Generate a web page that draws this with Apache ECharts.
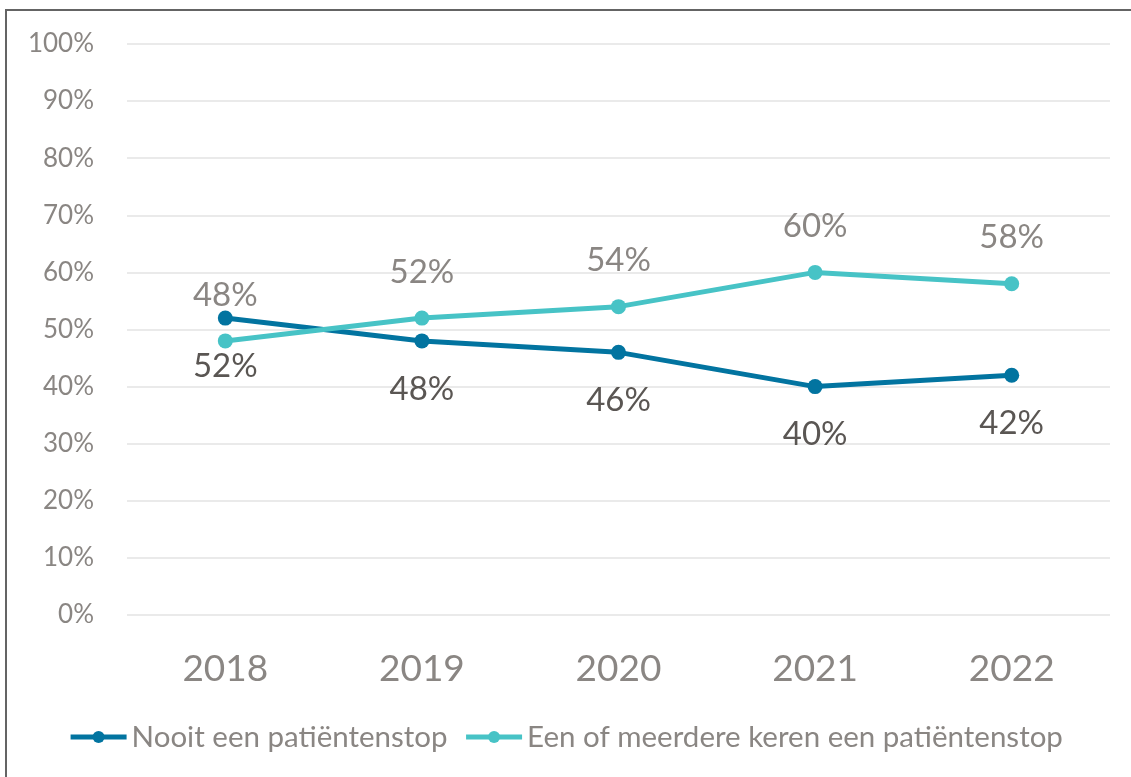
<!DOCTYPE html>
<html>
<head>
<meta charset="UTF-8">
<title>Patiëntenstop</title>
<script src="https://cdn.jsdelivr.net/npm/echarts@6/dist/echarts.min.js"></script>
<style>
  html, body { margin: 0; padding: 0; background: #fff; }
  #container { width: 1131px; height: 777px; }
</style>
</head>
<body>
<div id="container"></div>
<script>
// data
var years = ['2018', '2019', '2020', '2021', '2022'];
var nooit = [52, 48, 46, 40, 42];
var meerdere = [48, 52, 54, 60, 58];
var seriesNames = ['Nooit een patiëntenstop', 'Een of meerdere keren een patiëntenstop'];

var dom = document.getElementById('container');
var myChart = echarts.init(dom);
var font = 'Lato, "Open Sans", sans-serif';

var option = {
    animation: false,
    textStyle: { fontFamily: font },
    graphic: [{
        type: 'rect',
        shape: { x: 6, y: 10, width: 1140, height: 800 },
        style: { fill: 'none', stroke: '#646464', lineWidth: 2 },
        silent: true
    }],
    grid: { left: 127, right: 21, top: 44, bottom: 162 },
    legend: {
        bottom: 20,
        left: 'center',
        itemWidth: 56,
        itemHeight: 15,
        itemGap: 16,
        lineStyle: { width: 5 },
        textStyle: { fontSize: 29.5, color: '#8a8683', fontFamily: font },
        data: seriesNames
    },
    xAxis: {
        type: 'category',
        data: years,
        axisLine: { show: false },
        axisTick: { show: false },
        axisLabel: { fontSize: 37, color: '#8a8683', margin: 36 }
    },
    yAxis: {
        type: 'value',
        min: 0,
        max: 100,
        interval: 10,
        axisLine: { show: false },
        axisTick: { show: false },
        splitLine: { lineStyle: { color: '#e3e3e3', width: 1.5 } },
        axisLabel: { fontSize: 26, color: '#8a8683', margin: 33, formatter: '{value}%' }
    },
    series: [
        {
            name: seriesNames[0],
            type: 'line',
            data: nooit,
            symbol: 'circle',
            symbolSize: 15,
            lineStyle: { width: 5, color: '#0274a0' },
            itemStyle: { color: '#0274a0' },
            label: {
                show: true, position: 'bottom', distance: 24,
                fontSize: 33, color: '#5a5653', formatter: '{c}%'
            }
        },
        {
            name: seriesNames[1],
            type: 'line',
            data: meerdere,
            symbol: 'circle',
            symbolSize: 15,
            lineStyle: { width: 5, color: '#47c3c6' },
            itemStyle: { color: '#47c3c6' },
            label: {
                show: true, position: 'top', distance: 22,
                fontSize: 33, color: '#8a8683', formatter: '{c}%'
            }
        }
    ]
};

if (option && typeof option === "object") {
    myChart.setOption(option, true);
}
</script>
</body>
</html>
